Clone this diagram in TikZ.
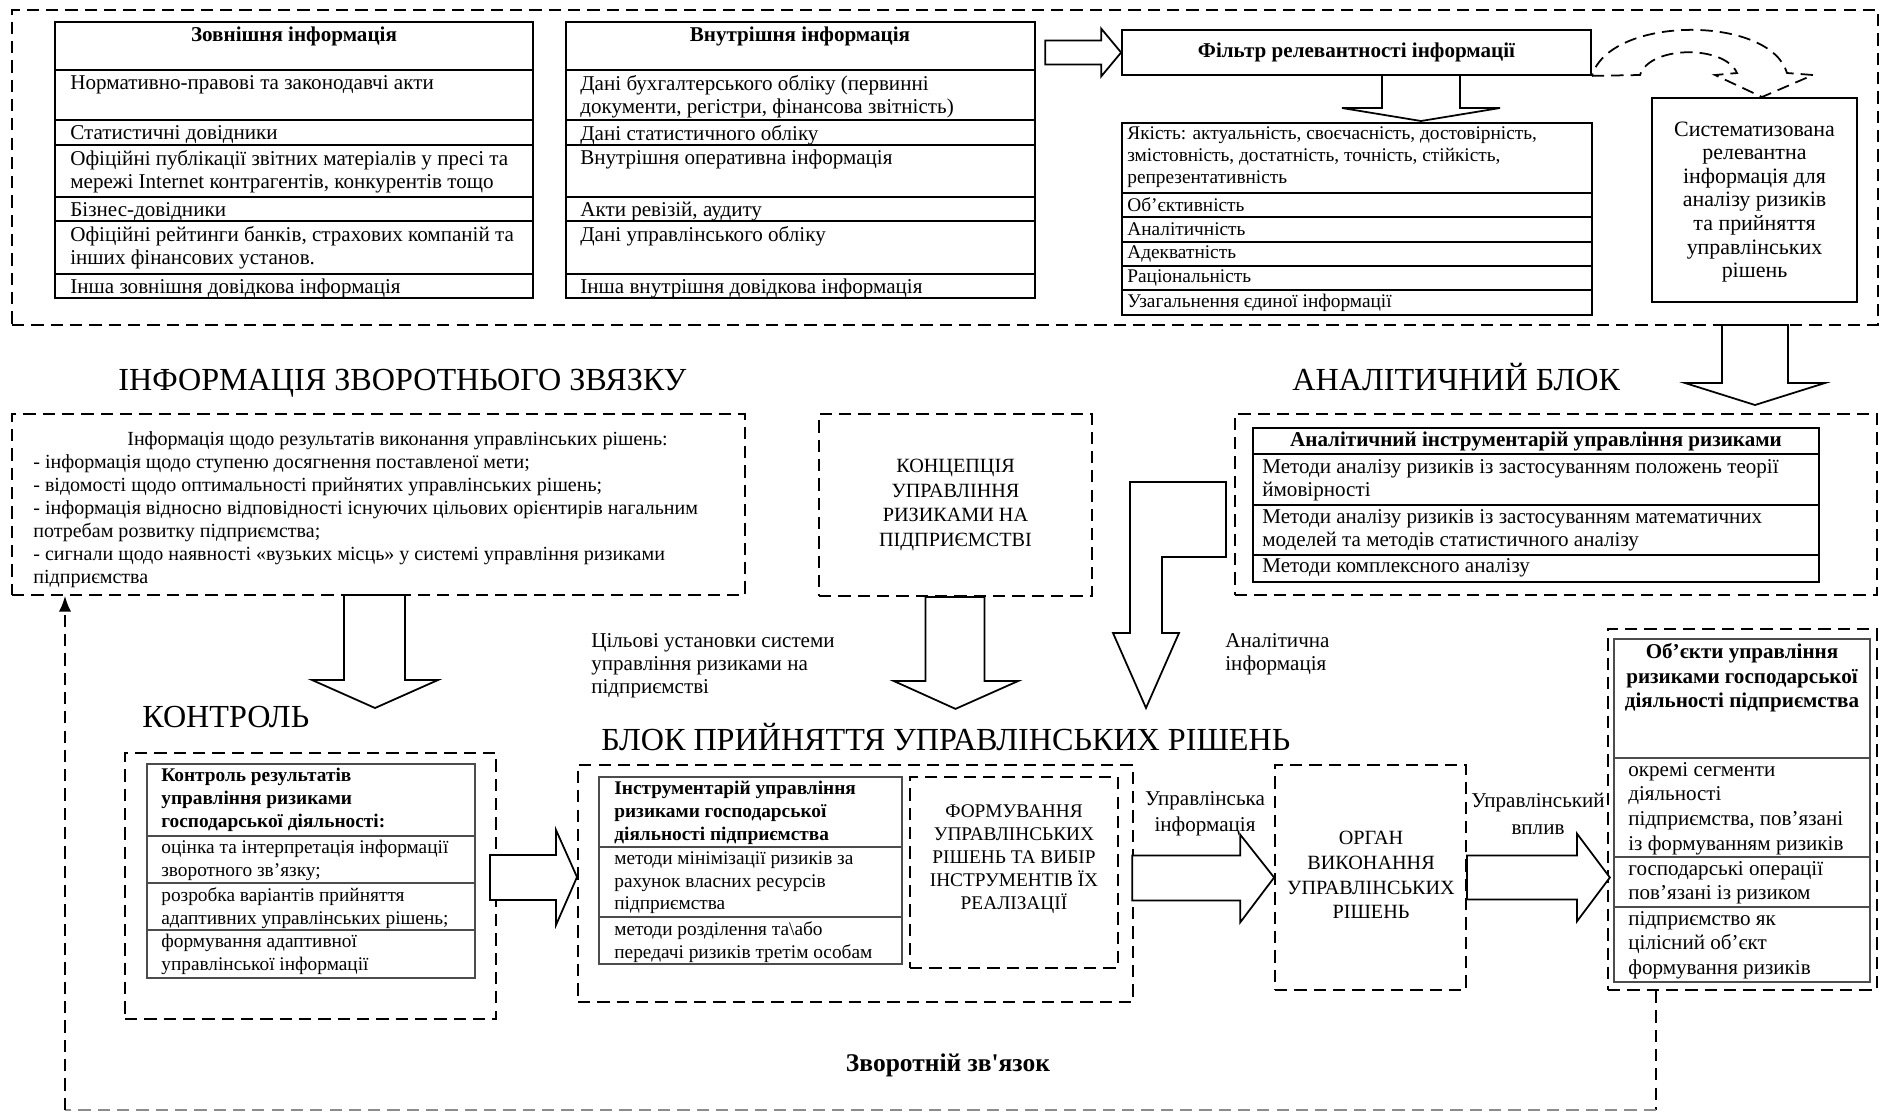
\documentclass[tikz,border=0pt]{standalone}
\usepackage{fontspec}
\setmainfont{Liberation Serif}
\usepackage{tikz}
\usetikzlibrary{
    arrows.meta,
    calc,
    fit,
    positioning
}
\newlength{\unitpx}
\setlength{\unitpx}{0.02cm}
\tikzset{dbox/.style={draw, line width=1pt, dash pattern=on 7pt off 4pt, inner sep=0pt},
    sbox/.style={draw, line width=1pt, inner sep=0pt},
    dline/.style={line width=1pt, dash pattern=on 7pt off 4pt},
    tbl/.style={line width=1pt},
    gtbl/.style={draw=black!70, line width=1pt},
    blk/.style={draw, line width=1pt, fill=white, line join=miter},
    ttl/.style={font=\fontsize{18.3}{21}\selectfont, inner sep=0pt, anchor=base west},
    tx/.style={font=\fontsize{12}{13}\selectfont, inner sep=0pt, align=left, anchor=north west},
    txo/.style={font=\fontsize{12}{14}\selectfont, inner sep=0pt, align=left, anchor=north west},
    txs/.style={font=\fontsize{11}{13}\selectfont, inner sep=0pt, align=left, anchor=north west},
    txq/.style={font=\fontsize{11}{12.5}\selectfont, inner sep=0pt, align=left, anchor=north west},
    hd/.style={font=\fontsize{12}{14}\selectfont\bfseries, inner sep=0pt, align=center},
    hds/.style={font=\fontsize{11}{13}\selectfont\bfseries, inner sep=0pt, align=left, anchor=north west},
    caps/.style={font=\fontsize{11.5}{14}\selectfont, inner sep=0pt, align=center},
    lbl/.style={font=\fontsize{12}{15}\selectfont, inner sep=0pt, align=center}}

\begin{document}
\begin{tikzpicture}[x=0.02cm, y=-0.02cm]
\useasboundingbox (0,0) rectangle (1881,1113);

% information sources
\node[dbox, fit={(12,10) (1878,325)}] (srcblk) {};
\draw[tbl] (55,22) rectangle (533,298);
\foreach \y in {70,120,145,197,221,274} \draw[tbl] (55,\y) -- (533,\y);
\node[hd] (exthd) at (294,36) {Зовнішня інформація};
\node[tx] (ext1) at (70,75) {Нормативно-правові та законодавчі акти};
\node[tx] (ext2) at (70,125) {Статистичні довідники};
\node[tx] (ext3) at (70,150) {Офіційні публікації звітних матеріалів у пресі та\\ мережі Internet контрагентів, конкурентів тощо};
\node[tx] (ext4) at (70,202) {Бізнес-довідники};
\node[tx] (ext5) at (70,226) {Офіційні рейтинги банків, страхових компаній та\\ інших фінансових установ.};
\node[tx] (ext6) at (70,279) {Інша зовнішня довідкова інформація};

\draw[tbl] (566,22) rectangle (1035,298);
\foreach \y in {70,120,145,197,221,274} \draw[tbl] (566,\y) -- (1035,\y);
\node[hd] (inthd) at (800,36) {Внутрішня інформація};
\node[tx] (int1) at (580,75) {Дані бухгалтерського обліку (первинні\\ документи, регістри, фінансова звітність)};
\node[tx] (int2) at (580,125) {Дані статистичного обліку};
\node[tx] (int3) at (580,150) {Внутрішня оперативна інформація};
\node[tx] (int4) at (580,202) {Акти ревізій, аудиту};
\node[tx] (int5) at (580,226) {Дані управлінського обліку};
\node[tx] (int6) at (580,279) {Інша внутрішня довідкова інформація};

\node[sbox, fit={(1122,30) (1591,75)}] (filter) {};
\node[hd] (filtertx) at (filter.center) {Фільтр релевантності інформації};
\draw[blk] (filter.west) -- ++(-20,-24) -- ++(0,12) -- ++(-56,0) -- ++(0,24) -- ++(56,0) -- ++(0,12) -- cycle;

\draw[tbl] (1122,123) rectangle (1592,315);
\foreach \y in {193,217,242,266,290} \draw[tbl] (1122,\y) -- (1592,\y);
\node[txq] (q1) at (1127,126) {Якість: актуальність, своєчасність, достовірність,\\ змістовність, достатність, точність, стійкість,\\ репрезентативність};
\node[txq, anchor=west] (q2) at (1127,205) {Об’єктивність};
\node[txq, anchor=west] (q3) at (1127,229.5) {Аналітичність};
\node[txq, anchor=west] (q4) at (1127,254) {Адекватність};
\node[txq, anchor=west] (q5) at (1127,278) {Раціональність};
\node[txq, anchor=west] (q6) at (1127,302.5) {Узагальнення єдиної інформації};
\draw[blk] (1421,121) -- ++(-79,-13) -- ++(40,0) -- ++(0,-33) -- ++(78,0) -- ++(0,33) -- ++(40,0) -- cycle;

\node[sbox, fit={(1652,98) (1857,302)}] (syst) {};
\node[font=\fontsize{12.5}{13.4}\selectfont, align=center, inner sep=0pt] (systtx) at ([yshift=-2\unitpx]syst.center) {Систематизована\\ релевантна\\ інформація для\\ аналізу ризиків\\ та прийняття\\ управлінських\\ рішень};
\draw[dline] (filter.south east) -- (1640,75) .. controls (1650,45) and (1725,45) .. (1737,73) -- (1715,75) -- (1762,97) -- (1813,75) -- (1787,73) .. controls (1770,15) and (1610,15) .. (filter.south east);
\draw[blk] (1755,405) -- ++(-70,-22) -- ++(37,0) -- ++(0,-58) -- ++(66,0) -- ++(0,58) -- ++(37,0) -- cycle;

% middle row
\node[ttl] (fbttl) at (118,390) {ІНФОРМАЦІЯ ЗВОРОТНЬОГО ЗВЯЗКУ};
\node[ttl] (analttl) at (1292,390) {АНАЛІТИЧНИЙ БЛОК};

\node[dbox, fit={(12,414) (745,595)}] (fbinfo) {};
\node[anchor=north west, inner sep=0pt, align=left, font=\fontsize{11.4}{13.1}\selectfont] (fbtx) at (33,431) {\hspace*{94\unitpx}Інформація щодо результатів виконання управлінських рішень:\\
- інформація щодо ступеню досягнення поставленої мети;\\
- відомості щодо оптимальності прийнятих управлінських рішень;\\
- інформація відносно відповідності існуючих цільових орієнтирів нагальним\\
потребам розвитку підприємства;\\
- сигнали щодо наявності «вузьких місць» у системі управління ризиками\\
підприємства};

\node[dbox, fit={(819,414) (1092,596)}] (concept) {};
\node[caps] (concepttx) at (concept.center) {КОНЦЕПЦІЯ\\ УПРАВЛІННЯ\\ РИЗИКАМИ НА\\ ПІДПРИЄМСТВІ};

\node[dbox, fit={(1235,414) (1877,595)}] (anal) {};
\draw[tbl] (1253,428) rectangle (1819,582);
\foreach \y in {454,505,555} \draw[tbl] (1253,\y) -- (1819,\y);
\node[hd] (analhd) at (1536,441) {Аналітичний інструментарій управління ризиками};
\node[tx] (anal1) at (1262,459) {Методи аналізу ризиків із застосуванням положень теорії\\ ймовірності};
\node[tx] (anal2) at (1262,509) {Методи аналізу ризиків із застосуванням математичних\\ моделей та методів статистичного аналізу};
\node[tx, anchor=west] (anal3) at (1262,568) {Методи комплексного аналізу};

\draw[blk] (375,708) -- ++(-63,-28) -- ++(32,0) -- ++(0,-85) -- ++(61,0) -- ++(0,85) -- ++(33,0) -- cycle;
\draw[blk] (concept.south) ++(-30,0) -- ++(0,84) -- ++(-32,0) -- ++(62,28) -- ++(63,-28) -- ++(-34,0) -- ++(0,-84) -- cycle;
\draw[blk] (1130,482) -- (1226,482) -- (1226,557) -- (1162,557) -- (1162,633) -- (1179,633) -- (1146,708) -- (1113,633) -- (1130,633) -- cycle;
\node[tx] (goals) at (591,633) {Цільові установки системи\\ управління ризиками на\\ підприємстві};
\node[tx] (analinfo) at (1225,633) {Аналітична\\ інформація};

% decision row
\node[ttl] (ctrlttl) at (142,727) {КОНТРОЛЬ};
\node[ttl] (decttl) at (601,750) {БЛОК ПРИЙНЯТТЯ УПРАВЛІНСЬКИХ РІШЕНЬ};

\node[dbox, fit={(125,753) (496,1019)}] (ctrl) {};
\draw[gtbl] (147,764) rectangle (475,978);
\foreach \y in {836,883,930} \draw[gtbl] (147,\y) -- (475,\y);
\node[hds] (ctrlhd) at (161,768) {Контроль результатів\\ управління ризиками\\ господарської діяльності:};
\node[txs] (ctrl1) at (161,840) {оцінка та інтерпретація інформації\\ зворотного зв’язку;};
\node[txs] (ctrl2) at (161,887) {розробка варіантів прийняття\\ адаптивних управлінських рішень;};
\node[txs] (ctrl3) at (161,934) {формування адаптивної\\ управлінської інформації};

\node[dbox, fit={(578,765) (1133,1002)}] (dec) {};
\draw[gtbl] (599,777) rectangle (902,964);
\foreach \y in {847,917} \draw[gtbl] (599,\y) -- (902,\y);
\node[hds] (dechd) at (614,781) {Інструментарій управління\\ ризиками господарської\\ діяльності підприємства};
\node[txs] (dec1) at (614,851) {методи мінімізації ризиків за\\ рахунок власних ресурсів\\ підприємства};
\node[txs] (dec2) at (614,921) {методи розділення та\textbackslash або\\ передачі ризиків третім особам};
\node[dbox, fit={(910,777) (1118,968)}] (form) {};
\node[caps, font=\fontsize{11}{13}\selectfont] (formtx) at (1014,859) {ФОРМУВАННЯ\\ УПРАВЛІНСЬКИХ\\ РІШЕНЬ ТА ВИБІР\\ ІНСТРУМЕНТІВ ЇХ\\ РЕАЛІЗАЦІЇ};
\draw[blk] (577,877) -- ++(-21,-47) -- ++(0,25) -- ++(-66,0) -- ++(0,45) -- ++(66,0) -- ++(0,25) -- cycle;

\node[dbox, fit={(1275,765) (1466,990)}] (organ) {};
\node[caps] (organtx) at (1371,875) {ОРГАН\\ ВИКОНАННЯ\\ УПРАВЛІНСЬКИХ\\ РІШЕНЬ};
\draw[blk] (organ.west) -- ++(-34,-43) -- ++(0,21) -- ++(-108,0) -- ++(0,45) -- ++(108,0) -- ++(0,22) -- cycle;
\node[lbl] (mgmtinfo) at (1205,814) {Управлінська\\ інформація};

\node[dbox, fit={(1608,629) (1877,990)}] (obj) {};
\draw[gtbl] (1614,639) rectangle (1870,982);
\foreach \y in {758,857,907} \draw[gtbl] (1614,\y) -- (1870,\y);
\node[hd] (objhd) at (1742,678) {Об’єкти управління\\ ризиками господарської\\ діяльності підприємства};
\node[txo] (obj1) at (1628,762) {окремі сегменти\\ діяльності\\ підприємства, пов’язані\\ із формуванням ризиків};
\node[txo] (obj2) at (1628,861) {господарські операції\\ пов’язані із ризиком};
\node[txo] (obj3) at (1628,911) {підприємство як\\ цілісний об’єкт\\ формування ризиків};
\draw[blk] (organ.east) ++(0,-22) -- ++(110,0) -- ++(0,-22) -- ++(33,44) -- ++(-33,44) -- ++(0,-22) -- ++(-110,0) -- cycle;
\node[lbl] (mgmtimp) at (1538,814) {Управлінський\\ вплив};

% feedback
\coordinate (fbr) at (1656,1110);
\coordinate (fbl) at (65,1110);
\draw[dline] (obj.south -| fbr) -- (fbr);
\draw[dline, black!45] (fbr) -- (fbl);
\draw[dline, -{Latex[length=9pt,width=7pt]}] (fbl) -- (fbinfo.south -| fbl);
\node[font=\fontsize{14.5}{16}\selectfont\bfseries, inner sep=0pt] (fbttl2) at (948,1065) {Зворотній зв\textquotesingle язок};
\end{tikzpicture}
\end{document}
